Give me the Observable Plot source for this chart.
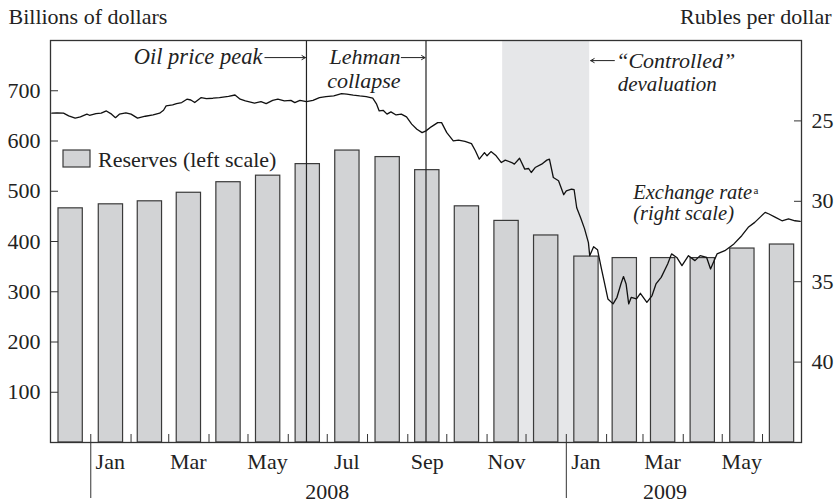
<!DOCTYPE html>
<html><head><meta charset="utf-8">
<script src="https://cdn.jsdelivr.net/npm/d3@7"></script>
<script src="https://cdn.jsdelivr.net/npm/@observablehq/plot@0.6"></script>
<style>
html,body{margin:0;padding:0;background:#fff}
#chart svg{display:block}
#chart svg, #chart svg text{font-family:"Liberation Serif","Tinos","Times New Roman","Nimbus Roman","DejaVu Serif",serif !important}
</style>
</head><body><div id="chart"></div>
<script>
// ---- data ----
const months = ["2007-12","2008-01","2008-02","2008-03","2008-04","2008-05","2008-06","2008-07","2008-08","2008-09","2008-10","2008-11","2008-12","2009-01","2009-02","2009-03","2009-04","2009-05","2009-06"];
const reserves = [466,474,480,497,518,531,554,581,568,542,470,441,412,370,367,367,367,386,394];

const rateDates = ["2007-12-02","2007-12-06","2007-12-11","2007-12-15","2007-12-20","2007-12-24","2007-12-29","2007-12-31",
"2008-01-05","2008-01-09","2008-01-13","2008-01-17","2008-01-20","2008-01-23","2008-01-28",
"2008-02-01","2008-02-06","2008-02-12","2008-02-18","2008-02-23","2008-02-26","2008-02-28",
"2008-03-04","2008-03-07","2008-03-11","2008-03-15","2008-03-18","2008-03-21","2008-03-26","2008-03-30",
"2008-04-04","2008-04-09","2008-04-16","2008-04-21","2008-04-25","2008-04-29",
"2008-05-06","2008-05-11","2008-05-15","2008-05-20","2008-05-24","2008-05-29",
"2008-06-03","2008-06-06","2008-06-10","2008-06-15","2008-06-20","2008-06-25","2008-06-30",
"2008-07-06","2008-07-12","2008-07-16","2008-07-21","2008-07-26","2008-07-31",
"2008-08-05","2008-08-08","2008-08-10","2008-08-13","2008-08-16","2008-08-19","2008-08-23","2008-08-27","2008-08-31",
"2008-09-04","2008-09-08","2008-09-12","2008-09-15","2008-09-19","2008-09-24","2008-09-27",
"2008-10-01","2008-10-06","2008-10-10","2008-10-15","2008-10-20","2008-10-23","2008-10-26","2008-10-30",
"2008-11-01","2008-11-04","2008-11-08","2008-11-12","2008-11-15","2008-11-20","2008-11-22","2008-11-26","2008-11-30",
"2008-12-03","2008-12-05","2008-12-08","2008-12-13","2008-12-17","2008-12-19","2008-12-22","2008-12-26","2008-12-30",
"2009-01-01","2009-01-05","2009-01-07","2009-01-09","2009-01-12","2009-01-15","2009-01-18","2009-01-19","2009-01-22","2009-01-25","2009-01-28","2009-01-30",
"2009-02-02","2009-02-06","2009-02-09","2009-02-12","2009-02-14","2009-02-16","2009-02-18","2009-02-20","2009-02-24","2009-02-27",
"2009-03-04","2009-03-08","2009-03-11","2009-03-15","2009-03-20","2009-03-23","2009-03-27","2009-03-31",
"2009-04-05","2009-04-10","2009-04-14","2009-04-19","2009-04-22","2009-04-27",
"2009-05-03","2009-05-10","2009-05-16","2009-05-21","2009-05-26","2009-05-30",
"2009-06-03","2009-06-06","2009-06-11","2009-06-16","2009-06-21","2009-06-26","2009-06-30"];
const rates = [24.52,24.50,24.52,24.69,24.83,24.75,24.58,24.65,
24.55,24.52,24.38,24.58,24.80,24.58,24.50,
24.58,24.83,24.71,24.63,24.52,24.34,24.07,
24.01,23.93,23.86,23.65,23.70,23.86,23.55,23.62,
23.59,23.55,23.47,23.39,23.65,23.76,
23.90,23.80,23.93,23.72,23.65,23.76,
23.72,23.86,23.72,23.80,23.72,23.55,23.49,
23.45,23.31,23.34,23.40,23.45,23.49,
23.59,23.96,24.38,24.34,24.58,24.44,24.63,24.58,24.75,
25.20,25.52,25.73,25.62,25.37,25.11,25.11,
25.73,26.24,26.20,26.28,26.41,26.86,27.38,26.97,
27.17,26.91,27.17,27.59,27.44,27.59,27.69,27.32,28.00,
27.96,28.21,27.90,27.69,27.44,27.38,28.52,28.72,29.59,
29.35,29.25,29.28,30.40,31.02,31.70,32.57,33.38,32.82,33.01,34.19,34.93,
36.07,36.38,35.97,35.14,34.68,35.14,36.38,35.97,36.07,35.72,
36.28,35.86,35.14,34.73,33.90,33.27,33.49,34.00,
33.38,33.69,33.38,33.49,34.21,33.27,
33.07,32.65,32.14,31.62,31.31,31.00,
30.69,30.79,31.00,31.21,31.10,31.21,31.25];

const leftTicks = [100,200,300,400,500,600,700];
const rightTicks = [25,30,35,40];
const monthLabels = ["2008-01","2008-03","2008-05","2008-07","2008-09","2008-11","2009-01","2009-03","2009-05"];
const yearLabels = [{year:"2008", at:"2008-07-01"},{year:"2009", at:"2009-03-18"}];
const yearStarts = ["2008-01-01","2009-01-01"];
const events = [{label:"Oil price peak", date:"2008-06-15"},{label:"Lehman collapse", date:"2008-09-15"}];
const devaluation = [{start:"2008-11-13", end:"2009-01-19"}];

// ---- build ----
const parse = d3.utcParse("%Y-%m-%d");
const DAY = 864e5;
const rub = d3.scaleLinear([20,45],[800,0]); // rubles -> left-scale units (right axis inverted)
const bars = months.map((m,i)=>{const s=parse(m+"-01"), e=d3.utcMonth.offset(s,1); return {mid:new Date((+s + +e)/2), value:reserves[i]};});
const half = 9.35*DAY;
const rateData = rateDates.map((d,i)=>({date:parse(d), rate:rates[i]}));
const ev = events.map(e=>({...e, date:parse(e.date)}));
const shade = devaluation.map(d=>({start:parse(d.start), end:parse(d.end)}));
const leh = ev[1].date, devEnd = shade[0].end;
const monthStarts = d3.utcMonth.range(parse("2008-01-01"), parse("2009-07-01"));
const monthMids = monthLabels.map(m=>{const s=parse(m+"-01"); return new Date(+s + 15*DAY);});

const barFill = "#d2d3d5", barStroke = "#3a3a3a", ink = "#222";
const FS = 22;
const FONT = "'Liberation Serif','Tinos','Times New Roman','Nimbus Roman','DejaVu Serif',serif";

const legend = (index, scales, values, dims) => {
  const g = d3.create("svg:g");
  const x0 = dims.marginLeft + 13, y0 = dims.marginTop + 110;
  g.append("rect").attr("x", x0).attr("y", y0).attr("width", 27).attr("height", 17)
    .attr("fill", barFill).attr("stroke", barStroke).attr("stroke-width", 1.2);
  g.append("text").attr("x", x0 + 35).attr("y", y0 + 16.5).attr("fill", ink)
    .attr("text-anchor", "start").attr("font-size", FS).text("Reserves (left scale)");
  return g.node();
};

const plot = Plot.plot({
  width: 838, height: 503,
  marginLeft: 50, marginRight: 37, marginTop: 40, marginBottom: 61,
  style: "font-family:" + FONT + ";font-size:" + FS + "px;color:" + ink + ";background:#fff;overflow:visible",
  x: {type: "utc", domain: [parse("2007-12-01"), parse("2009-07-01")], axis: null, label: null},
  y: {domain: [0, 800], axis: null, label: null},
  marks: [
    Plot.rect(shade, {x1: "start", x2: "end", fill: "#e6e7e9"}),
    Plot.rectY(bars, {x1: d => new Date(+d.mid - half), x2: d => new Date(+d.mid + half), y: "value", fill: barFill, stroke: barStroke, strokeWidth: 1.2}),
    Plot.ruleX(ev, {x: "date", stroke: ink, strokeWidth: 1.2}),
    Plot.line(rateData, {x: "date", y: d => rub(d.rate), stroke: "#111", strokeWidth: 1.3}),
    Plot.frame({stroke: "#333", strokeWidth: 1.3}),
    Plot.axisY(leftTicks, {anchor: "left", tickSize: -8, tickPadding: 18, stroke: "#333", fontSize: FS}),
    Plot.axisY(rightTicks.map(rub), {anchor: "right", tickSize: -8, tickPadding: 18, stroke: "#333", fontSize: FS, tickFormat: d => Math.round(rub.invert(d))}),
    Plot.axisX(monthStarts, {anchor: "bottom", tickSize: -8, stroke: "#333", fill: "none"}),
    Plot.axisX(yearStarts.map(parse), {anchor: "bottom", tickSize: 56, stroke: "#333", fill: "none"}),
    Plot.axisX(monthMids, {anchor: "bottom", tickSize: 0, tickPadding: 10.4, tickFormat: d3.utcFormat("%b"), fontSize: FS}),
    Plot.axisX(yearLabels.map(d => parse(d.at)), {anchor: "bottom", tickSize: 0, tickPadding: 41, tickFormat: d3.utcFormat("%Y"), fontSize: FS}),
    // titles
    Plot.text(["Billions of dollars"], {frameAnchor: "top-left", dx: -42, dy: -17, textAnchor: "start", lineAnchor: "bottom", fontSize: FS}),
    Plot.text(["Rubles per dollar"], {frameAnchor: "top-right", dx: 30, dy: -17, textAnchor: "end", lineAnchor: "bottom", fontSize: FS}),
    // annotations
    Plot.text([ev[0]], {x: "date", text: "label", frameAnchor: "top", dx: -44, dy: 23.3, textAnchor: "end", lineAnchor: "bottom", fontStyle: "italic", fontSize: FS + 0.5}),
    Plot.arrow([ev[0]], {x1: d => d3.utcDay.offset(d.date, -32), x2: "date", y1: () => 766, y2: () => 766, stroke: ink, strokeWidth: 1, headLength: 6, insetEnd: 1}),
    Plot.text(["Lehman"], {x: () => leh, frameAnchor: "top", dx: -25.5, dy: 23.3, textAnchor: "end", lineAnchor: "bottom", fontStyle: "italic", fontSize: FS}),
    Plot.text(["collapse"], {x: () => leh, frameAnchor: "top", dx: -25.5, dy: 47.3, textAnchor: "end", lineAnchor: "bottom", fontStyle: "italic", fontSize: FS}),
    Plot.arrow([ev[1]], {x1: d => d3.utcDay.offset(d.date, -19), x2: "date", y1: () => 766, y2: () => 766, stroke: ink, strokeWidth: 1, headLength: 6, insetEnd: 1}),
    Plot.text(["\u201cControlled\u201d"], {x: () => devEnd, frameAnchor: "top", dx: 26.5, dy: 27.7, textAnchor: "start", lineAnchor: "bottom", fontStyle: "italic", fontSize: FS}),
    Plot.text(["devaluation"], {x: () => devEnd, frameAnchor: "top", dx: 28, dy: 50, textAnchor: "start", lineAnchor: "bottom", fontStyle: "italic", fontSize: FS - 1}),
    Plot.arrow(shade, {x1: d => d3.utcDay.offset(d.end, 19), x2: "end", y1: () => 760, y2: () => 760, stroke: ink, strokeWidth: 1, headLength: 6, insetEnd: 1}),
    Plot.text(["Exchange rate\n(right scale)"], {frameAnchor: "top-left", dx: 582.7, dy: 179, textAnchor: "start", lineAnchor: "bottom", lineHeight: 0.98, fontStyle: "italic", fontSize: 20.5}),
    Plot.text(["a"], {frameAnchor: "top-left", dx: 703, dy: 153, textAnchor: "start", lineAnchor: "bottom", fontSize: 11}),
    legend
  ]
});
document.getElementById("chart").append(plot);
</script>
</body></html>
